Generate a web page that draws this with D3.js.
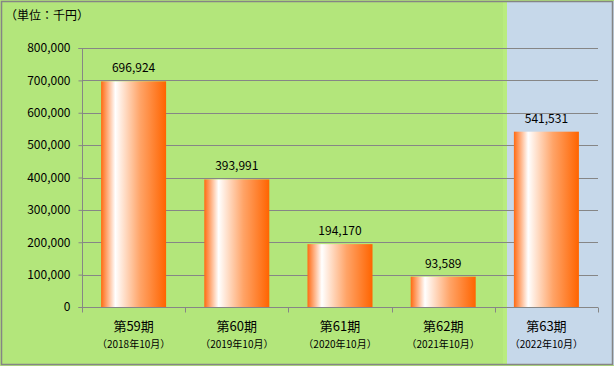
<!DOCTYPE html>
<html><head><meta charset="utf-8">
<script src="https://cdn.jsdelivr.net/npm/d3@7"></script>
<style>html,body{margin:0;padding:0;background:#fff}svg{display:block}</style>
</head><body>
<svg id="c" width="614" height="366"></svg>
<script>
const periods = ["第59期","第60期","第61期","第62期","第63期"];
const dates = ["（2018年10月）","（2019年10月）","（2020年10月）","（2021年10月）","（2022年10月）"];
const values = [696924, 393991, 194170, 93589, 541531];
const yTicks = [0,100000,200000,300000,400000,500000,600000,700000,800000];
const unitLabel = "（単位：千円）";

const W = 614, H = 366;
const svg = d3.select("#c");
const font = "'Noto Sans CJK JP','DejaVu Sans',sans-serif";

// backgrounds
svg.append("rect").attr("x",0).attr("y",0).attr("width",W).attr("height",H).attr("fill","#b3e67b");
const x = d3.scaleBand().domain(periods).range([82,598]).paddingInner(0.37).paddingOuter(0.185);
const bandStep = x.step();
const blueX = 507;
svg.append("rect").attr("x",503).attr("y",1).attr("width",4).attr("height",H-2).attr("fill","#b9ec80");
svg.append("rect").attr("x",blueX).attr("y",1).attr("width",W-blueX).attr("height",H-2).attr("fill","#c6d8ea");
svg.append("rect").attr("x",1.5).attr("y",1.5).attr("width",W-3).attr("height",H-3)
  .attr("fill","none").attr("stroke","#858585").attr("stroke-width",1.5);

const y = d3.scaleLinear().domain([0,800000]).range([307,48]);

// gridlines
svg.append("g").selectAll("line").data(yTicks.filter(d=>d>0)).join("line")
  .attr("x1",82).attr("x2",598)
  .attr("y1",d=>Math.round(y(d))+0.5).attr("y2",d=>Math.round(y(d))+0.5)
  .attr("stroke","#868686").attr("stroke-width",1);

// gradient
const defs = svg.append("defs");
const g = defs.append("linearGradient").attr("id","barg").attr("x1","0").attr("x2","1").attr("y1","0").attr("y2","0");
g.append("stop").attr("offset","0%").attr("stop-color","#ff6a12");
g.append("stop").attr("offset","22%").attr("stop-color","#ffffff");
g.append("stop").attr("offset","60%").attr("stop-color","#ffa468");
g.append("stop").attr("offset","100%").attr("stop-color","#ff6400");

// bars
svg.append("g").selectAll("rect").data(values).join("rect")
  .attr("x",(d,i)=>x(periods[i]))
  .attr("width",x.bandwidth())
  .attr("y",d=>y(d))
  .attr("height",d=>y(0)-y(d))
  .attr("fill","url(#barg)");

// value labels
const fmt = d3.format(",");
svg.append("g").selectAll("text").data(values).join("text")
  .attr("x",(d,i)=>x(periods[i])+x.bandwidth()/2)
  .attr("y",d=>y(d)-9)
  .attr("text-anchor","middle")
  .attr("font-family",font).attr("font-size",12).attr("fill","#000")
  .text(d=>fmt(d));

// y axis
const yAxis = d3.axisLeft(y).tickValues(yTicks).tickFormat(fmt).tickSize(4).tickPadding(8);
const ya = svg.append("g").attr("transform","translate(82.5,0)").call(yAxis);
ya.select(".domain").attr("stroke","#868686").attr("d","M-4,48.5H0V307.5H-4");
ya.selectAll(".tick line").attr("stroke","#868686");
ya.selectAll(".tick text").attr("font-family",font).attr("font-size",12).attr("fill","#000");

// x axis
const xa = svg.append("g").attr("transform","translate(0,307.5)");
xa.append("line").attr("x1",82).attr("x2",598).attr("y1",0).attr("y2",0).attr("stroke","#868686");
const bounds = d3.range(periods.length+1).map(i=>82+i*bandStep);
xa.selectAll("line.tk").data(bounds).join("line").attr("class","tk")
  .attr("x1",d=>Math.round(d)+0.5).attr("x2",d=>Math.round(d)+0.5).attr("y1",0).attr("y2",5)
  .attr("stroke","#868686");
xa.selectAll("text.p").data(periods).join("text").attr("class","p")
  .attr("x",d=>x(d)+x.bandwidth()/2).attr("y",23)
  .attr("text-anchor","middle").attr("font-family",font).attr("font-size",13).attr("fill","#000")
  .text(d=>d);
xa.selectAll("text.d").data(dates).join("text").attr("class","d")
  .attr("x",(d,i)=>x(periods[i])+x.bandwidth()/2).attr("y",40)
  .attr("text-anchor","middle").attr("font-family",font).attr("font-size",10).attr("fill","#000")
  .text(d=>d);

// unit label
svg.append("text").attr("x",5).attr("y",20).attr("font-family",font).attr("font-size",12).attr("fill","#000")
  .text(unitLabel);
</script>
</body></html>
